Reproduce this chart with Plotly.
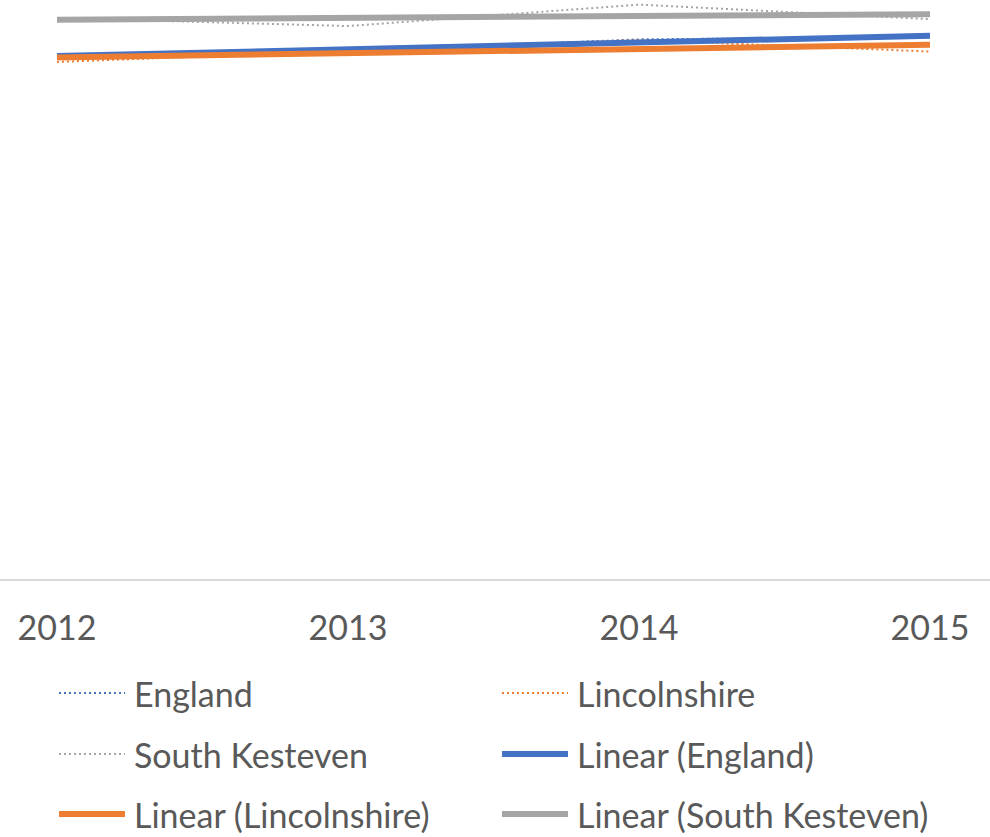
import numpy as np
import plotly.graph_objects as go

# Year categories
years = [2012, 2013, 2014, 2015]
tick_labels = ["2012", "2013", "2014", "2015"]

# Series values (%)
england = [90.4, 91.1, 93.2, 93.6]
lincolnshire = [89.3, 91.2, 93.1, 91.1]
south_kesteven = [96.9, 95.5, 99.2, 96.7]

series_names = ["England", "Lincolnshire", "South Kesteven"]
series_values = [england, lincolnshire, south_kesteven]
colors = ["#4472C4", "#ED7D31", "#A5A5A5"]

W, H = 990, 837
plot_top, plot_bottom = 0, 579          # px of plot area
x_first_px, x_last_px = 57, 930          # px of first / last category
px_per_year = (x_last_px - x_first_px) / (years[-1] - years[0])
x_range = [years[0] - x_first_px / px_per_year,
           years[-1] + (W - x_last_px) / px_per_year]

FONT = "Lato"
FONT_SIZE = 34
TEXT_COLOR = "#595959"

fig = go.Figure()

# Actual values: thin dotted lines
for name, vals, col in zip(series_names, series_values, colors):
    fig.add_trace(go.Scatter(
        x=years, y=vals, mode="lines", name=name,
        line=dict(color=col, width=2, dash="2px,3px"),
        showlegend=False,
    ))

# Linear trend lines (least-squares fit of each series)
x_arr = np.array(years, dtype=float)
for name, vals, col in zip(series_names, series_values, colors):
    slope, intercept = np.polyfit(x_arr, np.array(vals), 1)
    fig.add_trace(go.Scatter(
        x=years, y=slope * x_arr + intercept, mode="lines",
        name=f"Linear ({name})",
        line=dict(color=col, width=6),
        showlegend=False,
    ))

# Legend drawn as two columns of samples + labels
legend_entries = [
    ("England", colors[0], "dot"),
    ("Lincolnshire", colors[1], "dot"),
    ("South Kesteven", colors[2], "dot"),
    ("Linear (England)", colors[0], "solid"),
    ("Linear (Lincolnshire)", colors[1], "solid"),
    ("Linear (South Kesteven)", colors[2], "solid"),
]
plot_h = plot_bottom - plot_top
col_x = [57, 500]
row_y = [693, 754, 814]
shapes = []
annotations = []
for i, (label, col, style) in enumerate(legend_entries):
    cx = col_x[i % 2]
    cy = row_y[i // 2]
    yp = (plot_bottom - cy) / plot_h
    shapes.append(dict(
        type="line", xref="paper", yref="paper",
        x0=(cx + 2) / W, x1=(cx + 68) / W, y0=yp, y1=yp,
        line=dict(color=col, width=2 if style == "dot" else 6,
                  dash="2px,3px" if style == "dot" else "solid"),
    ))
    annotations.append(dict(
        xref="paper", yref="paper", x=(cx + 75) / W, y=yp,
        xanchor="left", yanchor="middle", showarrow=False,
        text=label, font=dict(size=FONT_SIZE, color=TEXT_COLOR, family=FONT),
    ))

fig.update_layout(
    width=W, height=H,
    margin=dict(l=0, r=0, t=plot_top, b=H - plot_bottom, pad=0),
    paper_bgcolor="white", plot_bgcolor="white",
    showlegend=False,
    shapes=shapes, annotations=annotations,
    xaxis=dict(
        range=x_range, tickvals=years, ticktext=tick_labels,
        showgrid=False, zeroline=False,
        showline=True, linecolor="#D9D9D9", linewidth=2,
        ticks="", ticklabelstandoff=18,
        tickfont=dict(size=FONT_SIZE, color=TEXT_COLOR, family=FONT),
        fixedrange=True,
    ),
    yaxis=dict(
        range=[0, 100], visible=False, fixedrange=True,
    ),
)

fig.write_html("out.html")
